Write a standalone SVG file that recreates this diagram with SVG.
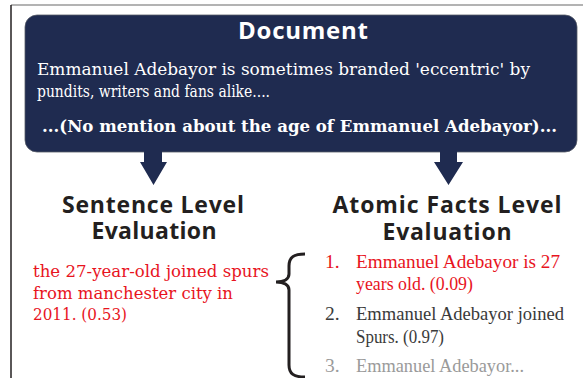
<svg xmlns="http://www.w3.org/2000/svg" width="583" height="378" viewBox="0 0 583 378">
<style>
.h{font-family:"Open Sans","Noto Sans",sans-serif;font-weight:700;fill:#231f20;font-size:23px;text-anchor:middle}
.doc{font-family:"DejaVu Serif","Liberation Serif",serif;fill:#ffffff;font-size:17.5px}
.red{font-family:"DejaVu Serif","Liberation Serif",serif;fill:#e8141e;font-size:17px}
.it{font-family:"Liberation Serif","DejaVu Serif",serif;font-size:19.5px}
.arrow{fill:#1f2b50}
</style>
<rect width="583" height="378" fill="#ffffff"/>
<g id="frame">
<line x1="11" y1="5" x2="583" y2="5" stroke="#9a9a9a" stroke-width="1.5"/>
<line x1="11" y1="5" x2="11" y2="378" stroke="#231f20" stroke-width="1.5"/>
</g>
<g id="document">
<rect x="25" y="15" width="552" height="137" rx="12" fill="#1f2b50" stroke="#555a66" stroke-width="0.8"/>
<text x="303" y="39" class="h" style="fill:#ffffff;font-size:24px" textLength="130">Document</text>
<text x="37" y="75" class="doc" textLength="493" lengthAdjust="spacingAndGlyphs">Emmanuel Adebayor is sometimes branded 'eccentric' by</text>
<text x="37" y="97" class="doc" textLength="233" lengthAdjust="spacingAndGlyphs">pundits, writers and fans alike....</text>
<text x="42" y="132" class="doc" style="font-weight:700" textLength="515" lengthAdjust="spacingAndGlyphs">...(No mention about the age of Emmanuel Adebayor)...</text>
</g>
<g id="connectors">
<polygon class="arrow" points="144,150 162,150 162,162 167,162 153.5,185 140,162 144,162"/>
<polygon class="arrow" points="440,150 457,150 457,162 463,162 448.5,185 434,162 440,162"/>
</g>
<g id="sentence-level">
<text x="153" y="213" class="h" textLength="182">Sentence Level</text>
<text x="154" y="239" class="h" textLength="125">Evaluation</text>
<text x="33" y="277" class="red" textLength="236" lengthAdjust="spacingAndGlyphs">the 27-year-old joined spurs</text>
<text x="33" y="299" class="red" textLength="200" lengthAdjust="spacingAndGlyphs">from manchester city in</text>
<text x="33" y="320" class="red" textLength="94" lengthAdjust="spacingAndGlyphs">2011. (0.53)</text>
</g>
<g id="brace">
<path d="M305,254 C294,254 289,257 289,266 L289,274 C289,279 284,282 276,282 C284,282 289,285 289,290 L289,365 C289,374 294,377 305,377" fill="none" stroke="#231f20" stroke-width="3"/>
</g>
<g id="atomic-level">
<text x="447" y="213" class="h" textLength="229">Atomic Facts Level</text>
<text x="447" y="240" class="h" textLength="129">Evaluation</text>
<text x="325" y="268" class="it" fill="#e8141e">1.</text>
<text x="356" y="268" class="it" fill="#e8141e" textLength="204" lengthAdjust="spacingAndGlyphs">Emmanuel Adebayor is 27</text>
<text x="356" y="290" class="it" fill="#e8141e" textLength="117" lengthAdjust="spacingAndGlyphs">years old. (0.09)</text>
<text x="325" y="320" class="it" fill="#3a3a3a">2.</text>
<text x="356" y="320" class="it" fill="#3a3a3a" textLength="208" lengthAdjust="spacingAndGlyphs">Emmanuel Adebayor joined</text>
<text x="356" y="343" class="it" fill="#3a3a3a" textLength="88" lengthAdjust="spacingAndGlyphs">Spurs. (0.97)</text>
<text x="325" y="372" class="it" fill="#9a9a9a">3.</text>
<text x="356" y="372" class="it" fill="#9a9a9a" textLength="168" lengthAdjust="spacingAndGlyphs">Emmanuel Adebayor...</text>
</g>
</svg>
